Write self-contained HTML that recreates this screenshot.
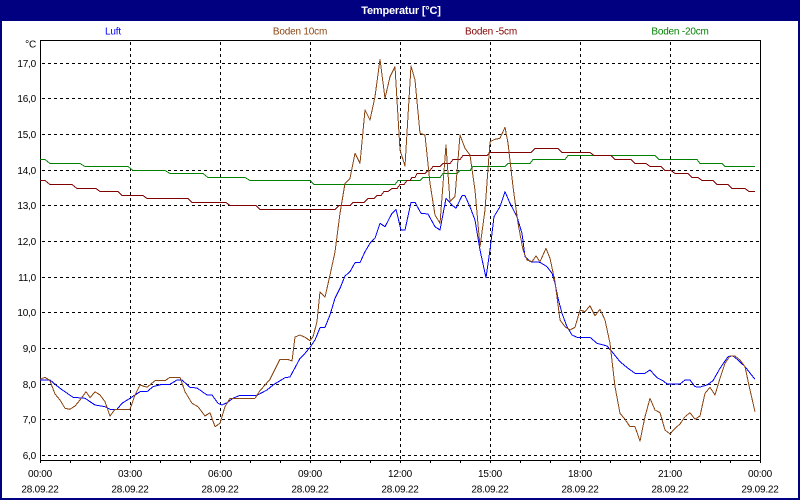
<!DOCTYPE html>
<html><head><meta charset="utf-8"><style>
html,body{margin:0;padding:0;background:#fff;}
svg{display:block;}
text{font-family:"Liberation Sans",sans-serif;}
</style></head><body>
<svg width="800" height="500" viewBox="0 0 800 500" xmlns="http://www.w3.org/2000/svg">
<rect x="0" y="0" width="800" height="500" fill="#ffffff"/>
<rect x="0" y="0" width="800" height="21" fill="#000080"/>
<rect x="0" y="0" width="2" height="500" fill="#000080"/>
<rect x="798" y="0" width="2" height="500" fill="#000080"/>
<rect x="0" y="498" width="800" height="2" fill="#000080"/>
<text x="401" y="14" fill="#fff" font-size="11" font-weight="bold" text-anchor="middle" letter-spacing="-0.2">Temperatur [°C]</text>

<g font-size="10" text-anchor="middle" letter-spacing="-0.2">
<text x="113" y="34.5" fill="#0000ff">Luft</text>
<text x="300" y="34.5" fill="#8B4513">Boden 10cm</text>
<text x="491" y="34.5" fill="#800000">Boden -5cm</text>
<text x="680" y="34.5" fill="#008000">Boden -20cm</text>
</g>

<!-- grid -->
<g stroke="#000" stroke-width="1" stroke-dasharray="3,3" shape-rendering="crispEdges" fill="none">
<line x1="42" y1="63.5" x2="760" y2="63.5"/>
<line x1="42" y1="98.5" x2="760" y2="98.5"/>
<line x1="42" y1="134.5" x2="760" y2="134.5"/>
<line x1="42" y1="170.5" x2="760" y2="170.5"/>
<line x1="42" y1="205.5" x2="760" y2="205.5"/>
<line x1="42" y1="241.5" x2="760" y2="241.5"/>
<line x1="42" y1="277.5" x2="760" y2="277.5"/>
<line x1="42" y1="312.5" x2="760" y2="312.5"/>
<line x1="42" y1="348.5" x2="760" y2="348.5"/>
<line x1="42" y1="384.5" x2="760" y2="384.5"/>
<line x1="42" y1="419.5" x2="760" y2="419.5"/>
<line x1="42" y1="455.5" x2="760" y2="455.5"/>
<line x1="130.5" y1="42" x2="130.5" y2="460"/>
<line x1="220.5" y1="42" x2="220.5" y2="460"/>
<line x1="310.5" y1="42" x2="310.5" y2="460"/>
<line x1="400.5" y1="42" x2="400.5" y2="460"/>
<line x1="490.5" y1="42" x2="490.5" y2="460"/>
<line x1="580.5" y1="42" x2="580.5" y2="460"/>
<line x1="670.5" y1="42" x2="670.5" y2="460"/>
</g>

<!-- frame -->
<g stroke="#000" stroke-width="1" shape-rendering="crispEdges" fill="none">
<rect x="40.5" y="40.5" width="720" height="420"/>
<path d="M40.5 461V463 M70.5 461V463 M100.5 461V463 M130.5 461V463 M160.5 461V463 M190.5 461V463 M220.5 461V463 M250.5 461V463 M280.5 461V463 M310.5 461V463 M340.5 461V463 M370.5 461V463 M400.5 461V463 M430.5 461V463 M460.5 461V463 M490.5 461V463 M520.5 461V463 M550.5 461V463 M580.5 461V463 M610.5 461V463 M640.5 461V463 M670.5 461V463 M700.5 461V463 M730.5 461V463 M760.5 461V463"/>
</g>

<!-- y labels -->
<g font-size="10" text-anchor="end" fill="#000" letter-spacing="-0.2">
<text x="36" y="47.5">°C</text>
<text x="36" y="67">17,0</text>
<text x="36" y="102">16,0</text>
<text x="36" y="138">15,0</text>
<text x="36" y="174">14,0</text>
<text x="36" y="209">13,0</text>
<text x="36" y="245">12,0</text>
<text x="36" y="281">11,0</text>
<text x="36" y="316">10,0</text>
<text x="36" y="352">9,0</text>
<text x="36" y="388">8,0</text>
<text x="36" y="423">7,0</text>
<text x="36" y="459">6,0</text>
</g>

<!-- x labels -->
<g font-size="10" text-anchor="middle" fill="#000" letter-spacing="-0.2">
<text x="40" y="477">00:00</text><text x="40" y="492.5">28.09.22</text>
<text x="130" y="477">03:00</text><text x="130" y="492.5">28.09.22</text>
<text x="220" y="477">06:00</text><text x="220" y="492.5">28.09.22</text>
<text x="310" y="477">09:00</text><text x="310" y="492.5">28.09.22</text>
<text x="400" y="477">12:00</text><text x="400" y="492.5">28.09.22</text>
<text x="490" y="477">15:00</text><text x="490" y="492.5">28.09.22</text>
<text x="580" y="477">18:00</text><text x="580" y="492.5">28.09.22</text>
<text x="670" y="477">21:00</text><text x="670" y="492.5">28.09.22</text>
<text x="760" y="477">00:00</text><text x="760" y="492.5">29.09.22</text>
</g>

<g fill="none" stroke-width="1" stroke-linejoin="round" shape-rendering="crispEdges">
<!-- Boden -20cm -->
<polyline stroke="#008000" points="40,159.5 45,159.5 50,163.5 80,163.5 85,166.5 128,166.5 133,170.5 165,170.5 170,173.5 203,173.5 208,177.5 245,177.5 250,180.5 310,180.5 314,184.5 395,184.5 398,180.5 420,180.5 423,177.5 440,177.5 443,173.5 457,173.5 460,170.5 470,170.5 473,166.5 505,166.5 508,163.5 530,163.5 533,159.5 565,159.5 568,155.5 655,155.5 659,159.5 697,159.5 700,163.5 722,163.5 725,166.5 755,166.5"/>
<!-- Boden -5cm -->
<polyline stroke="#800000" points="40,180.5 45,180.5 50,184.5 72,184.5 77,188.5 96,188.5 100,191.5 118,191.5 122,195.5 143,195.5 147,198.5 188,198.5 192,202.5 226,202.5 230,205.5 256,205.5 260,209.5 335,209.5 339,205.5 350,205.5 353,202.5 364,202.5 368,198.5 374,198.5 377,195.5 381,195.5 384,191.5 388,191.5 392,188.5 397,188.5 400,184.5 404,184.5 407,180.5 410,180.5 412,177.5 415,177.5 417,173.5 425,173.5 428,170.5 430,170.5 433,166.5 440,166.5 443,163.5 450,163.5 453,159.5 460,159.5 463,155.5 487,155.5 490,152.5 531,152.5 535,148.5 558,148.5 562,152.5 590,152.5 594,155.5 611,155.5 615,159.5 631,159.5 635,163.5 646,163.5 650,166.5 661,166.5 665,170.5 671,170.5 675,173.5 688,173.5 692,177.5 698,177.5 702,180.5 713,180.5 717,184.5 728,184.5 732,188.5 745,188.5 749,191.5 755,191.5"/>
<!-- Luft -->
<polyline stroke="#0000ff" points="40,380 50,380 60,388.3 73,397.3 85,398.3 95,405 105,406.7 110,409.3 117,409.3 122,403.3 130,398.3 140,391.7 147,391.7 153,386.7 162,384.3 170,384.3 177,380 182,380 190,387.3 197,388 207,395 212,395 218,403.3 222,405 227,402.7 233,398.3 240,395.3 257,395.3 267,390 273,385 285,377.7 290,377 295,367.7 300,358.3 305,353.3 310,347.3 315,340 320,327.7 325,327.3 330,315 335,298.3 340,288.3 345,276 350,271.7 355,262.7 360,262.7 365,251.7 370,243.3 372,241 375,238.3 380,223.3 385,226.7 392,213.3 396,209.3 401,230 405,230 411,202.3 415,202.3 421,213.3 428,214 435,226.7 440,230 446,198.3 452,205 456,208.3 462,195.7 465,195.7 470,206.7 475,220 480,250 486,277.7 490,250 494,216.7 500,206.7 505,191.7 510,203.3 517,216.7 522,233.3 525,256.7 530,261.7 540,262.3 547,266.7 552,273.3 555,283.3 558,298.3 562,313.3 567,326.7 572,335 577,337.3 590,337.3 597,343.3 607,346 612,351.7 620,361.7 628,368.3 635,373.3 645,373.3 650,370 657,377.7 663,380.7 667,384 680,384 685,380 690,380 695,386.7 700,387 707,385 713,380.7 720,368.3 728,356.7 733,356 738,360 745,366.7 755,379.3"/>
<!-- Boden 10cm -->
<polyline stroke="#8B4513" points="40,379.3 45,377.3 50,380.7 55,394 60,400 65,408.3 70,409.3 75,406 80,400 86,391.7 90,397.7 95,391.7 100,395 105,401.7 110,416 115,409.3 130,409.3 135,395 140,385 147,387.3 155,380.7 165,380.7 170,377.3 180,377.3 185,391.7 192,403.3 198,406.7 205,416 210,412.7 215,426.7 220,423.3 225,406.7 230,398.3 255,398.3 260,390.7 270,379.3 280,359.3 288,359.5 292,361 295,337 300,335 305,337.3 310,340.7 313,336.7 317,321.7 320,291.7 325,297.3 330,275 335,252 340,213.3 345,183.3 350,178.3 355,153.3 360,163.3 365,110 370,120 375,96.7 380,59.3 385,98.3 390,76.7 395,66.7 400,150 405,166 411,66 415,80 420,133.3 425,135 430,183.3 435,215 440,223.3 446,145 450,201.7 455,196.7 460,135 465,148.3 470,155 475,190 480,246.7 485,210 490,141.7 495,139.3 500,138.3 505,127.3 508,143 513,186.7 518,223.3 523,250 527,260 532,261.7 536,256 540,261.7 546,248.3 550,258.3 555,281.7 560,320 565,326.7 570,330 575,327.3 580,310 585,311.7 590,305.7 595,315.7 600,309.3 605,320 610,343.3 615,386.7 620,413.3 625,419.3 630,426.7 635,426.7 640,441 645,416.7 650,398.3 655,410 660,412.7 665,430 670,434 675,428.3 680,424 685,416.7 690,412.7 695,419.3 700,416 705,393.3 710,387.3 715,395 720,378.3 725,363.3 730,356 735,356 740,360 745,366.7 750,390 755,411.7"/>
</g>
</svg>
</body></html>
